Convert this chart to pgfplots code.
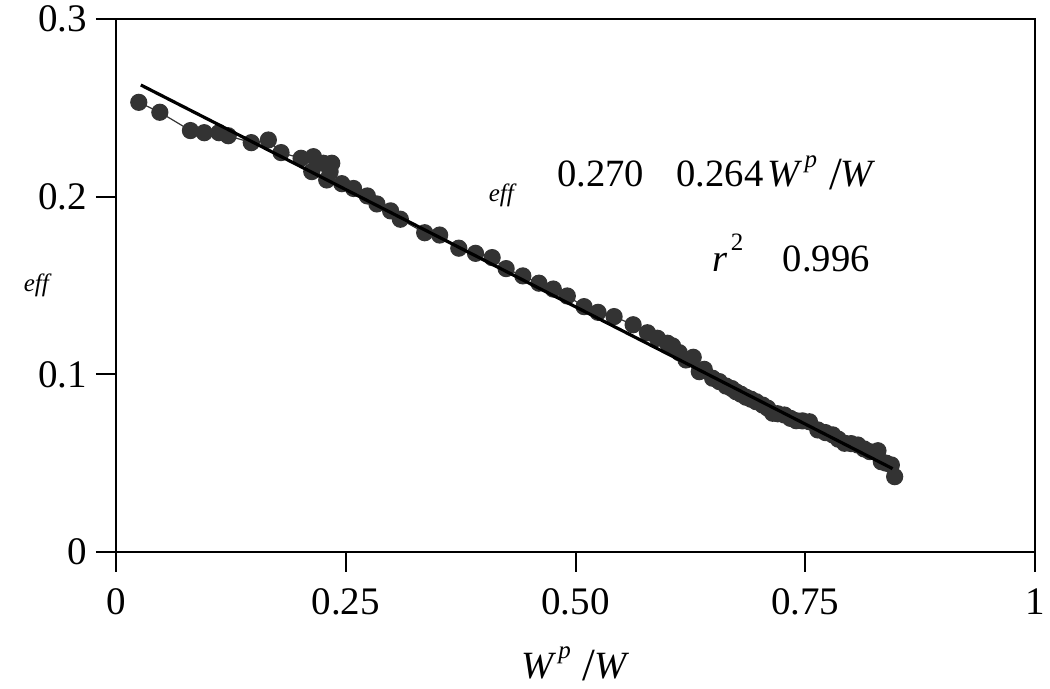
\documentclass[border=0pt]{standalone}
\usepackage{pgfplots}
\pgfplotsset{compat=1.18}
\usepackage{fontspec}
\setmainfont{Liberation Serif}
\definecolor{dot}{HTML}{333333}
\pgfplotstableread{
x y
0.0248 0.2531
0.0477 0.2475
0.0810 0.2372
0.0960 0.2360
0.1120 0.2360
0.1221 0.2343
0.1472 0.2304
0.1658 0.2319
0.1796 0.2248
0.2014 0.2216
0.2148 0.2225
0.2130 0.2141
0.2257 0.2188
0.2348 0.2188
0.2330 0.2141
0.2293 0.2094
0.2457 0.2073
0.2585 0.2046
0.2735 0.2004
0.2839 0.1959
0.2988 0.1920
0.3094 0.1873
0.3359 0.1797
0.3522 0.1784
0.3730 0.1710
0.3912 0.1681
0.4093 0.1657
0.4245 0.1595
0.4427 0.1554
0.4602 0.1513
0.4758 0.1480
0.4911 0.1441
0.5093 0.1381
0.5245 0.1349
0.5420 0.1325
0.5627 0.1279
0.5783 0.1234
0.5892 0.1203
0.6001 0.1175
0.6056 0.1160
0.6129 0.1122
0.6202 0.1081
0.6281 0.1096
0.6347 0.1015
0.6401 0.1028
0.6492 0.0978
0.6565 0.0959
0.6638 0.0934
0.6700 0.0920
0.6747 0.0902
0.6800 0.0888
0.6856 0.0871
0.6910 0.0860
0.6965 0.0846
0.7037 0.0827
0.7090 0.0810
0.7146 0.0781
0.7200 0.0778
0.7274 0.0771
0.7340 0.0752
0.7401 0.0739
0.7470 0.0738
0.7546 0.0733
0.7637 0.0687
0.7720 0.0672
0.7800 0.0659
0.7860 0.0635
0.7928 0.0612
0.8000 0.0610
0.8073 0.0602
0.8140 0.0580
0.8201 0.0565
0.8291 0.0570
0.8328 0.0508
0.8380 0.0500
0.8437 0.0490
0.8473 0.0424
}\data
\begin{document}
\begin{tikzpicture}
\path[use as bounding box] (-58pt,-68.5pt) rectangle (467pt,276pt);
\begin{axis}[
  at={(0,0)}, anchor=south west,
  clip mode=individual,
  scale only axis, width=459.5pt, height=266.5pt,
  xmin=0, xmax=1, ymin=0, ymax=0.3,
  clip=false,
  axis line style={line width=1pt},
  every tick/.style={black, line width=1pt},
  tick align=outside, major tick length=10pt,
  xtick={0,0.25,0.5,0.75,1},
  xticklabels={0,0.25,0.50,0.75,1},
  ytick={0,0.1,0.2,0.3},
  yticklabels={0,0.1,0.2,0.3},
  xtick pos=bottom, ytick pos=left,
  ticklabel style={font=\fontsize{19.5}{21}\selectfont},
  xticklabel style={yshift=-5pt},
  yticklabel style={xshift=-1pt},
]
\addplot[color=dot, line width=0.6pt, mark=*, mark size=4pt,
  mark options={fill=dot, draw=dot}] table[x=x,y=y] {\data};
\addplot[black, line width=1.6pt] coordinates {(0.027,0.26287) (0.845,0.04692)};
\node[anchor=base west, font=\fontsize{12.5}{12}\selectfont\itshape] at (axis cs:-0.108,0.1464) {eff};
\node[anchor=base west, font=\fontsize{12.5}{12}\selectfont\itshape] at (axis cs:0.398,0.197) {eff};
\node[anchor=base west, inner sep=0pt, font=\fontsize{19.3}{21}\selectfont] at (axis cs:0.4798,0.2055) {0.270};
\node[anchor=base west, inner sep=0pt, font=\fontsize{19.3}{21}\selectfont] at (axis cs:0.6096,0.2055)
  {0.264\kern2pt\textit{W}\kern1pt\raisebox{0.5em}{\fontsize{12.5}{12}\selectfont\textit{p}}\kern6pt\raisebox{-0.08em}{\fontsize{23}{23}\selectfont/}\kern-0.5pt\textit{W}};
\node[anchor=base west, inner sep=0pt, font=\fontsize{19.3}{21}\selectfont] at (axis cs:0.6489,0.1576)
  {\textit{r}\kern1.5pt\raisebox{0.55em}{\fontsize{12.5}{12}\selectfont 2}};
\node[anchor=base west, inner sep=0pt, font=\fontsize{19.3}{21}\selectfont] at (axis cs:0.7252,0.1576) {0.996};
\node[anchor=base, inner sep=0pt, font=\fontsize{19.3}{21}\selectfont] at (axis cs:0.5,-0.0710)
  {\textit{W}\kern1pt\raisebox{0.5em}{\fontsize{12.5}{12}\selectfont\textit{p}}\kern6pt\raisebox{-0.05em}{\fontsize{23}{23}\selectfont/}\kern-0.5pt\textit{W}};
\end{axis}
\end{tikzpicture}
\end{document}
